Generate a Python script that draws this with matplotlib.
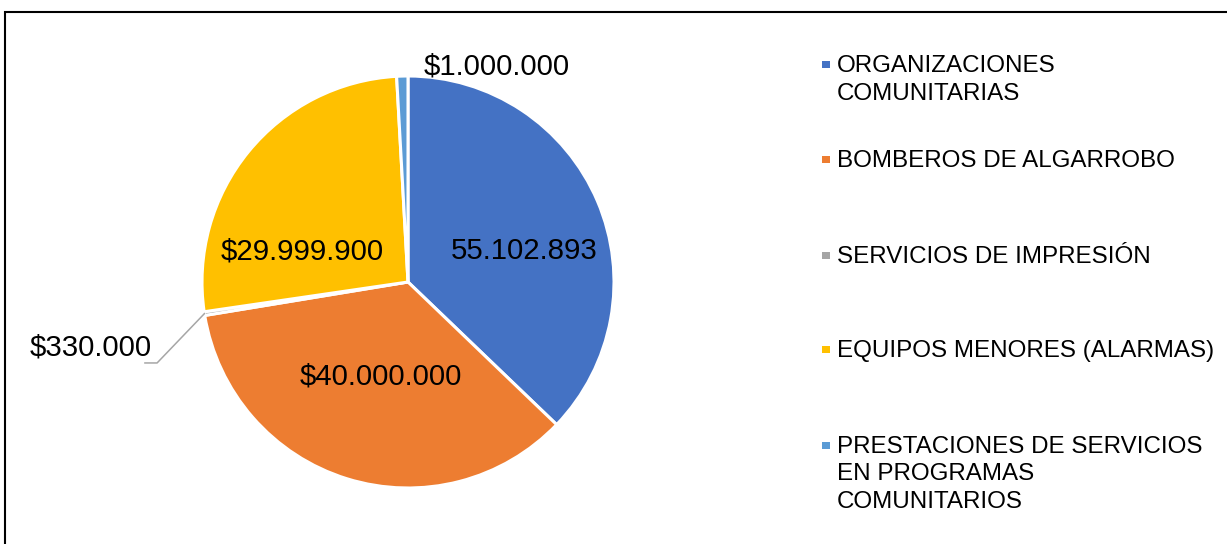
import matplotlib
matplotlib.use('Agg')
import matplotlib.pyplot as plt
from matplotlib.patches import Rectangle
import numpy as np

plt.rcParams['font.family'] = ['Liberation Sans', 'DejaVu Sans']

categories = ['ORGANIZACIONES\nCOMUNITARIAS', 'BOMBEROS DE ALGARROBO', 'SERVICIOS DE IMPRESIÓN',
              'EQUIPOS MENORES (ALARMAS)', 'PRESTACIONES DE SERVICIOS\nEN PROGRAMAS\nCOMUNITARIOS']
values = [42_200_000, 40_000_000, 330_000, 29_999_900, 1_000_000]
value_labels = ['55.102.893', '$40.000.000', '$330.000', '$29.999.900', '$1.000.000']
colors = ['#4472C4', '#ED7D31', '#A5A5A5', '#FFC000', '#5B9BD5']

W, H = 1227, 544
fig = plt.figure(figsize=(W / 100, H / 100), dpi=100)

# pie axes: centre (408, 282) px, radius 206 px
cx, cy, r = 408, 282, 206
ax = fig.add_axes([(cx - r) / W, (H - cy - r) / H, 2 * r / W, 2 * r / H])
wedges, _ = ax.pie(values, colors=colors, startangle=90, counterclock=False, radius=1,
                   wedgeprops=dict(edgecolor='white', linewidth=2.2))
ax.set_xlim(-1, 1)
ax.set_ylim(-1, 1)
ax.set_aspect('equal')
ax.axis('off')

# data labels (positions in pie units)
label_pos = [(0.563, 0.150), (-0.131, -0.461), None, (-0.515, 0.150), (0.430, 1.044)]
for lab, pos in zip(value_labels, label_pos):
    if pos is None:
        continue
    ax.text(pos[0], pos[1], lab, ha='center', va='center', fontsize=21.2, color='black')

# leader line for the small gray slice
w = wedges[2]
mid = np.deg2rad((w.theta1 + w.theta2) / 2)
px, py = np.cos(mid), np.sin(mid)
ax.plot([px, -1.218, -1.277], [py, -0.393, -0.393], color='#A6A6A6', lw=1.1, clip_on=False)
ax.text(-1.243, -0.318, value_labels[2], ha='right', va='center', fontsize=21.2, clip_on=False)

# legend drawn by hand: marker beside the first line of each entry
baselines = [72, 167, 263, 357, 453]
line_step = 27.5
for cat, col, b in zip(categories, colors, baselines):
    for j, line in enumerate(cat.split('\n')):
        fig.text(837 / W, 1 - (b + j * line_step) / H, line, fontsize=17.35,
                 va='baseline', ha='left')
    m = 7.5
    fig.add_artist(Rectangle(((826 - m / 2) / W, 1 - (b - 7.5 + m / 2) / H), m / W, m / H,
                             transform=fig.transFigure, facecolor=col, edgecolor='none'))

# outer frame
fig.add_artist(Rectangle((4.5 / W, -0.1), 1.2, 1.1 - 12.5 / H, transform=fig.transFigure,
                         fill=False, edgecolor='black', linewidth=1.5, clip_on=False))

fig.savefig('out.png', dpi=100)
